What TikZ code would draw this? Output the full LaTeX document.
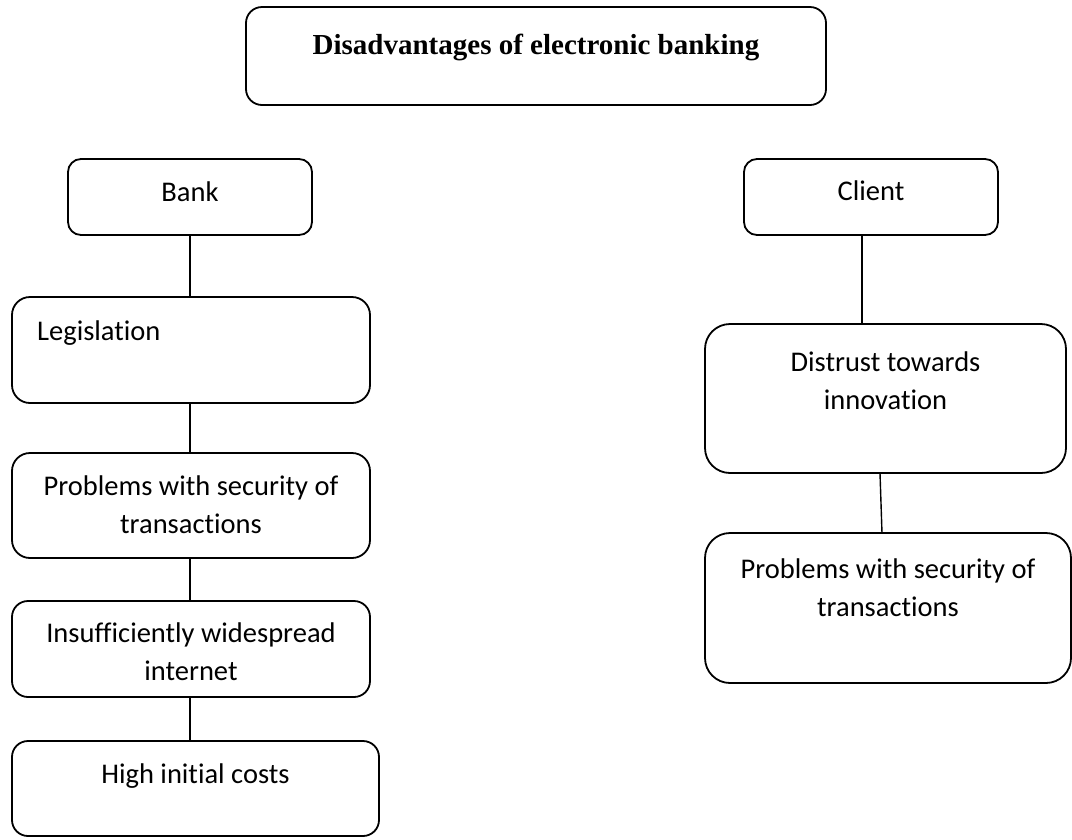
\documentclass[tikz,border=0pt]{standalone}
\usepackage{fontspec}
\setmainfont{Carlito}[Ligatures=NoCommon]
\newfontfamily\titlefont{Liberation Serif}
\usetikzlibrary{calc}
\newcommand{\firstline}{\rule{0pt}{20pt}}
\begin{document}
\begin{tikzpicture}[x=1pt,y=-1pt,
  box/.style={draw, line width=1.8pt, inner sep=0pt, outer sep=0pt, anchor=north west},
  lbl/.style={font=\fontsize{28.5}{38}\selectfont, align=center, inner sep=0pt, anchor=north},
  link/.style={line width=1.8pt}]
\useasboundingbox (0,0) rectangle (1072,839);

% heading
\node[box, minimum width=580pt, minimum height=98pt, rounded corners=16pt] (title) at (246,7) {};
\node[inner sep=0pt, anchor=north, font=\titlefont\bfseries\fontsize{29}{35}\selectfont]
  (title-t) at ($(title.north)+(0,25)$) {\rule{0pt}{22pt}Disadvantages of electronic banking};

% bank branch
\node[box, minimum width=244pt, minimum height=76pt, rounded corners=13pt] (bank) at (68,159) {};
\node[lbl] (bank-t) at ($(bank.north)+(0,22)$) {\firstline Bank};

\node[box, minimum width=358pt, minimum height=106pt, rounded corners=18pt] (legis) at (12,297) {};
\node[lbl, anchor=north west] (legis-t) at ($(legis.north west)+(25,23)$) {\firstline Legislation};

\node[box, minimum width=358pt, minimum height=105pt, rounded corners=18pt] (bsec) at (12,453) {};
\node[lbl] (bsec-t) at ($(bsec.north)+(0,22)$) {\firstline Problems with security of\\transactions};

\node[box, minimum width=358pt, minimum height=96pt, rounded corners=16pt] (inet) at (12,601) {};
\node[lbl] (inet-t) at ($(inet.north)+(0,21)$) {\firstline Insufficiently widespread\\internet};

\node[box, minimum width=367pt, minimum height=95pt, rounded corners=16pt] (cost) at (12,741) {};
\node[lbl] (cost-t) at ($(cost.north)+(0,22)$) {\firstline High initial costs};

% client branch
\node[box, minimum width=254pt, minimum height=76pt, rounded corners=13pt] (client) at (744,159) {};
\node[lbl] (client-t) at ($(client.north)+(0,21)$) {\firstline Client};

\node[box, minimum width=361pt, minimum height=149pt, rounded corners=25pt] (trust) at (705,324) {};
\node[lbl] (trust-t) at ($(trust.north)+(0,27)$) {\firstline Distrust towards\\innovation};

\node[box, minimum width=366pt, minimum height=150pt, rounded corners=25pt] (csec) at (705,533) {};
\node[lbl] (csec-t) at ($(csec.north)+(0,25)$) {\firstline Problems with security of\\transactions};

% connectors
\draw[link] (bank.south) -- (bank.south |- legis.north);
\draw[link] ([xshift=-1pt]legis.south) -- ([xshift=-1pt]bsec.north);
\draw[link] ([xshift=-1pt]bsec.south) -- ([xshift=-1pt]inet.north);
\draw[link] ([xshift=-1pt]inet.south) -- ([xshift=-1pt]inet.south |- cost.north);
\draw[link] ([xshift=-9pt]client.south) -- ([xshift=-9pt]client.south |- trust.north);
\draw[line width=1.4pt] ([xshift=-5.5pt]trust.south) -- ([xshift=-6pt]csec.north);
\end{tikzpicture}
\end{document}
